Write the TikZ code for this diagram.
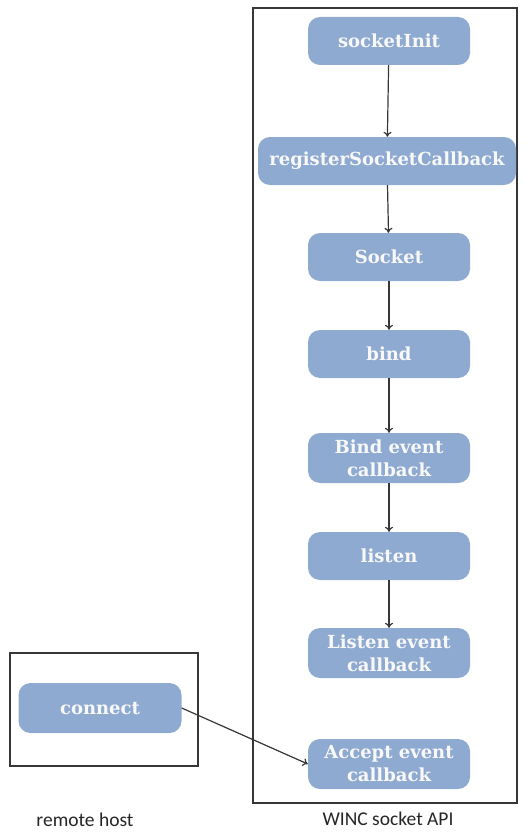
\documentclass[tikz,border=0pt]{standalone}
\usepackage{fontspec}
\setmainfont{Carlito}
\newfontfamily\nodefont{DejaVu Serif}
\usetikzlibrary{arrows.meta,positioning}
\definecolor{nodeblue}{RGB}{143,170,208}
\definecolor{nodetext}{RGB}{248,248,248}
\definecolor{linegray}{RGB}{55,55,55}
\tikzset{
  stepbox/.style={rounded corners=12pt, fill=nodeblue, draw=none,
    text=nodetext, font=\nodefont\bfseries\fontsize{18}{23}\selectfont,
    align=center, minimum width=162pt, minimum height=48pt, inner sep=1pt},
  flow/.style={draw=linegray, line width=1.2pt, -{To[length=5pt,width=8pt]}},
  frame/.style={draw=linegray, line width=1.3pt},
  caption/.style={font=\fontsize{19.5}{22}\selectfont, text=black!85}
}
\begin{document}
\begin{tikzpicture}[x=1pt,y=-1pt]
\useasboundingbox (0,0) rectangle (525,832);
\draw[frame] (253,8) rectangle (517,803);
\draw[frame] (10,653) rectangle (198,766);
\node[stepbox] (init) at (389,41) {socketInit};
\node[stepbox, minimum width=258pt] (reg) at (387,161) {registerSocketCallback};
\node[stepbox] (sock) at (389,257) {Socket};
\node[stepbox] (bind) at (389,354) {bind};
\node[stepbox, minimum height=50pt] (bcb) at (389,458) {Bind event\\callback};
\node[stepbox] (listen) at (389,556) {listen};
\node[stepbox, minimum height=50pt] (lcb) at (389,653) {Listen event\\callback};
\node[stepbox, minimum height=50pt] (acb) at (389,764) {Accept event\\callback};
\node[stepbox, minimum width=163pt, minimum height=50pt] (conn) at (100,708) {connect};
\node[caption] (rh) at (85,820) {remote host};
\node[caption] (api) at (388,819) {WINC socket API};
\draw[flow] (init) -- (reg);
\draw[flow] (reg) -- (sock);
\draw[flow] (sock) -- (bind);
\draw[flow] (bind) -- (bcb);
\draw[flow] (bcb) -- (listen);
\draw[flow] (listen) -- (lcb);
\draw[flow] (conn.east) -- (acb.west);
\end{tikzpicture}
\end{document}
